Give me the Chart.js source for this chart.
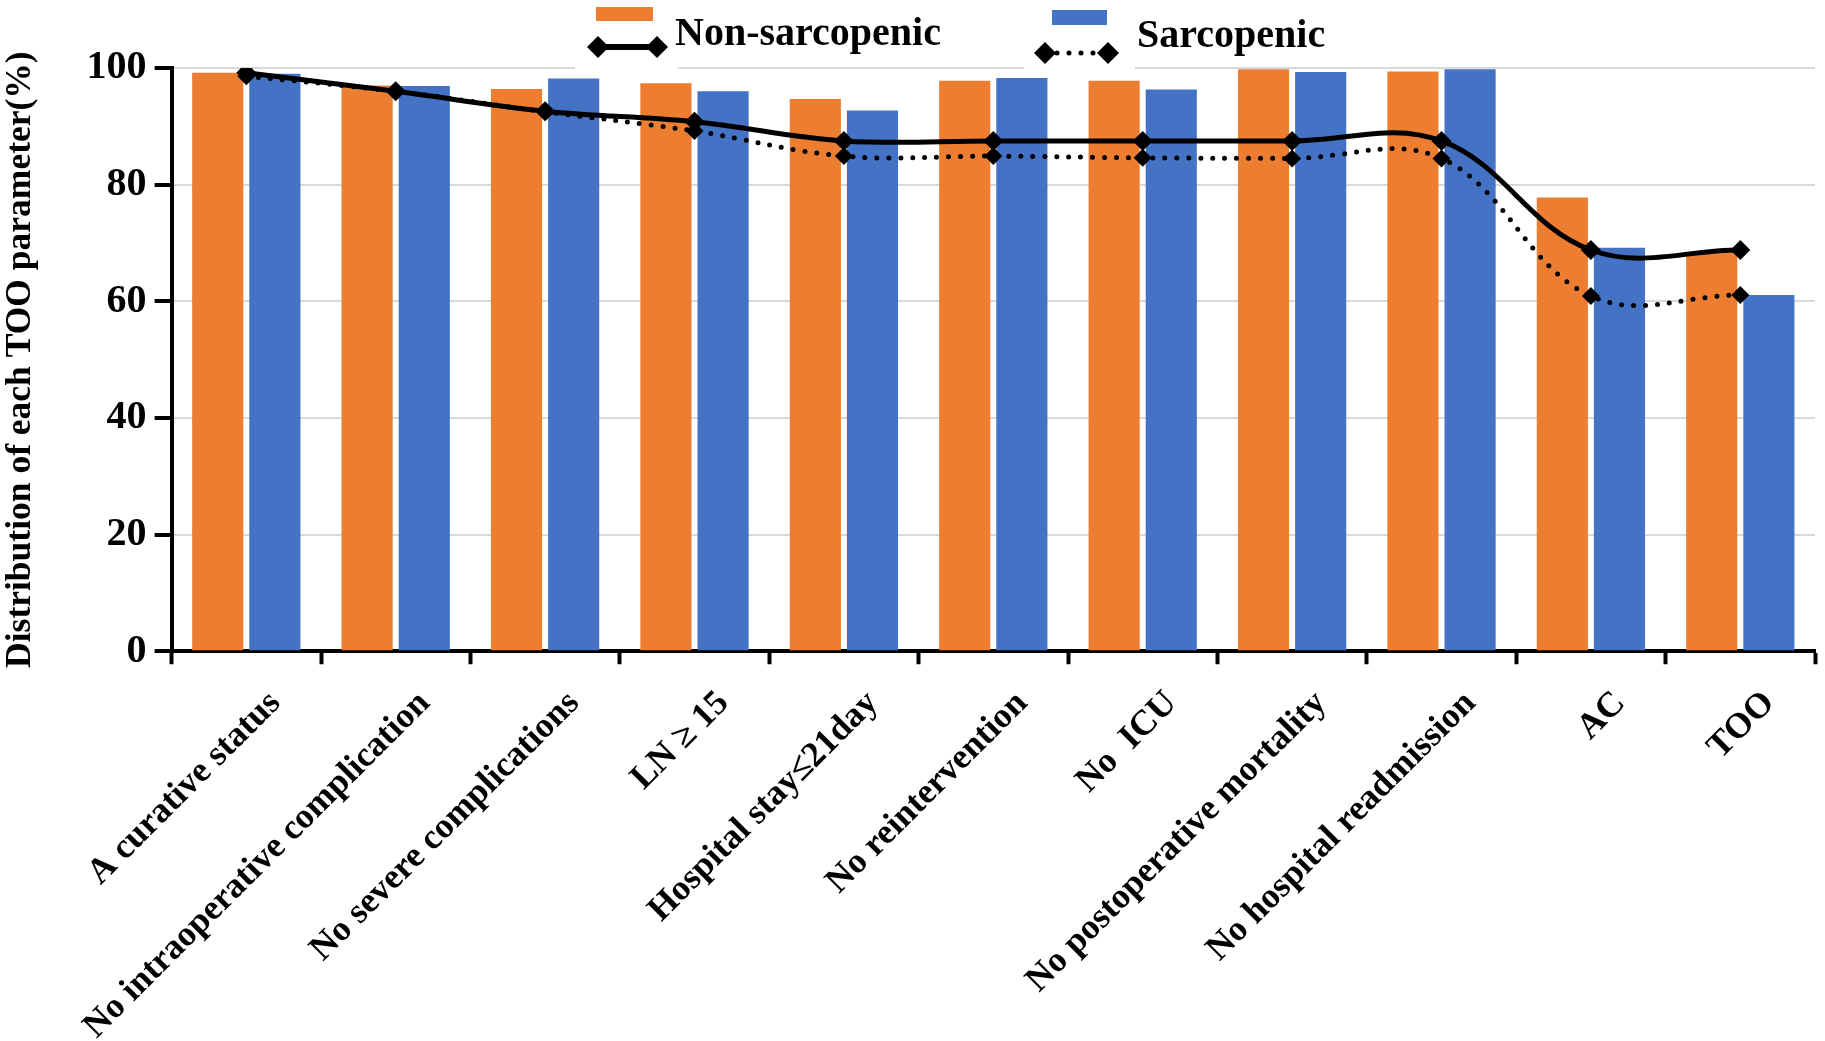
<!DOCTYPE html>
<html>
<head>
<meta charset="utf-8">
<title>Distribution of each TOO parameter</title>
<script src="https://cdn.jsdelivr.net/npm/chart.js@4.4.1/dist/chart.umd.min.js"></script>
<style>
  html, body { margin: 0; padding: 0; background: #fff; }
  #wrap { width: 1825px; height: 1041px; position: relative; }
</style>
</head>
<body>
<div id="wrap"><canvas id="grafico"></canvas></div>
<script>
// categorias do eixo x
const categorias = [
  "A curative status",
  "No intraoperative complication",
  "No severe complications",
  "LN \u2265 15",
  "Hospital stay\u226421day",
  "No reintervention",
  "No  ICU",
  "No postoperative mortality",
  "No hospital readmission",
  "AC",
  "TOO",
];

// barras (%)
const barrasNaoSarco = [99.2, 97.0, 96.4, 97.4, 94.7, 97.8, 97.8, 99.8, 99.4, 77.8, 68.4];
const barrasSarco = [99.0, 96.9, 98.2, 96.0, 92.7, 98.3, 96.3, 99.3, 99.8, 69.2, 61.1];

// linhas (%)
const linhaNaoSarco = [99.2, 96.0, 92.6, 90.8, 87.5, 87.5, 87.5, 87.5, 87.5, 68.8, 68.8];
const linhaSarco = [98.6, 96.0, 92.5, 89.2, 84.9, 84.9, 84.6, 84.5, 84.5, 60.9, 61.1];

const ticksY = [0, 20, 40, 60, 80, 100];

const LARANJA = "#ED7D31";
const AZUL = "#4472C4";
const FONTE = "'Liberation Serif', 'Times New Roman', serif";

// desenha um losango
function losango(ctx, x, y, r) {
  ctx.beginPath();
  ctx.moveTo(x - r, y);
  ctx.lineTo(x, y - r);
  ctx.lineTo(x + r, y);
  ctx.lineTo(x, y + r);
  ctx.closePath();
  ctx.fill();
}

// legenda no estilo do Excel (caixa + linha com marcadores)
const legendaPlugin = {
  id: "legendaExcel",
  afterDraw(chart) {
    const ctx = chart.ctx;
    ctx.save();

    // fundo branco da legenda cobre a grade em 100
    ctx.fillStyle = "#fff";
    ctx.fillRect(575, 28, 103, 42);
    ctx.fillRect(1024, 28, 111, 42);

    // Non-sarcopenic
    ctx.fillStyle = LARANJA;
    ctx.fillRect(596, 7, 57, 14);
    ctx.strokeStyle = "#000";
    ctx.fillStyle = "#000";
    ctx.lineWidth = 6;
    ctx.beginPath();
    ctx.moveTo(598, 47);
    ctx.lineTo(657, 47);
    ctx.stroke();
    losango(ctx, 598, 47, 11);
    losango(ctx, 657, 47, 11);

    // Sarcopenic
    ctx.fillStyle = AZUL;
    ctx.fillRect(1052, 10, 55, 15);
    ctx.fillStyle = "#000";
    ctx.lineWidth = 5;
    ctx.lineCap = "round";
    ctx.setLineDash([0, 12]);
    ctx.beginPath();
    ctx.moveTo(1045, 53);
    ctx.lineTo(1108, 53);
    ctx.stroke();
    ctx.setLineDash([]);
    losango(ctx, 1045, 53, 11);
    losango(ctx, 1108, 53, 11);

    ctx.font = "bold 40px " + FONTE;
    ctx.textBaseline = "alphabetic";
    ctx.textAlign = "left";
    ctx.fillText(chart.data.datasets[0].label, 675, 45);
    ctx.fillText(chart.data.datasets[1].label, 1137, 47);
    ctx.restore();
  },
};

function criarGrafico() {
  const ctx = document.getElementById("grafico").getContext("2d");

  new Chart(ctx, {
    type: "bar",
    data: {
      labels: categorias,
      datasets: [
        {
          label: "Non-sarcopenic",
          data: barrasNaoSarco,
          backgroundColor: LARANJA,
          borderWidth: 0,
          categoryPercentage: 0.765,
          barPercentage: 0.895,
          order: 2,
        },
        {
          label: "Sarcopenic",
          data: barrasSarco,
          backgroundColor: AZUL,
          borderWidth: 0,
          categoryPercentage: 0.765,
          barPercentage: 0.895,
          order: 2,
        },
        {
          type: "line",
          label: "Non-sarcopenic",
          data: linhaNaoSarco,
          borderColor: "#000",
          borderWidth: 5,
          tension: 0.38,
          fill: false,
          pointStyle: "rectRot",
          pointRadius: 10,
          pointBackgroundColor: "#000",
          pointBorderWidth: 0,
          order: 1,
        },
        {
          type: "line",
          label: "Sarcopenic",
          data: linhaSarco,
          borderColor: "#000",
          borderWidth: 5,
          borderDash: [0, 12],
          borderCapStyle: "round",
          tension: 0.38,
          fill: false,
          pointStyle: "rectRot",
          pointRadius: 9,
          pointBackgroundColor: "#000",
          pointBorderWidth: 0,
          order: 0,
        },
      ],
    },
    options: {
      responsive: true,
      maintainAspectRatio: false,
      devicePixelRatio: 1,
      animation: false,
      layout: {
        padding: { top: 68, right: 0, bottom: 0, left: 0 },
      },
      plugins: {
        legend: { display: false },
        tooltip: { enabled: false },
      },
      scales: {
        x: {
          offset: true,
          // o Chart.js reserva mais altura do que os rótulos girados usam
          afterFit: (scale) => {
            scale.height = scale.height - 25;
          },
          grid: {
            display: true,
            drawOnChartArea: false,
            offset: true,
            tickColor: "#000",
            tickLength: 13,
            tickWidth: 4,
          },
          border: { color: "#000", width: 4 },
          ticks: {
            color: "#000",
            autoSkip: false,
            maxRotation: 45,
            minRotation: 45,
            padding: 21,
            labelOffset: 29,
            font: { family: FONTE, size: 35.5, weight: "bold", lineHeight: 1 },
          },
        },
        y: {
          min: 0,
          max: 100,
          afterBuildTicks: (scale) => {
            scale.ticks = ticksY.map((v) => ({ value: v }));
          },
          grid: {
            color: "#d9d9d9",
            lineWidth: 2,
            tickColor: "#000",
            tickLength: 17,
            tickWidth: 4,
          },
          border: { color: "#000", width: 4 },
          ticks: {
            color: "#000",
            padding: 8,
            font: { family: FONTE, size: 40, weight: "bold" },
          },
          title: {
            display: true,
            text: "Distribution of each TOO parameter(%)",
            color: "#000",
            padding: { top: 0, bottom: 36 },
            font: { family: FONTE, size: 35.5, weight: "bold" },
          },
        },
      },
    },
    plugins: [legendaPlugin],
  });
}

document.addEventListener("DOMContentLoaded", criarGrafico);
</script>
</body>
</html>
